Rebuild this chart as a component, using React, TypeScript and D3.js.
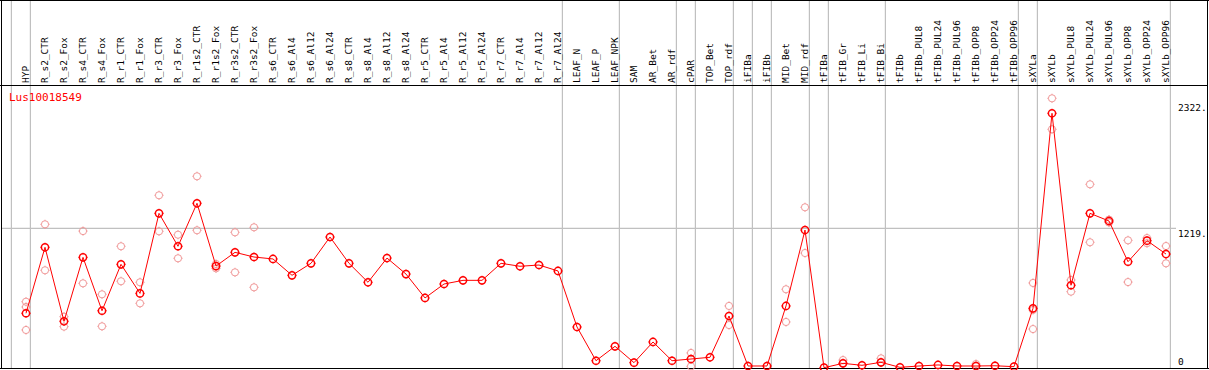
import React from "react";
import * as d3 from "d3";

const categories = [
  "HYP", "R_s2_CTR", "R_s2_Fox", "R_s4_CTR", "R_s4_Fox", "R_r1_CTR", "R_r1_Fox", "R_r3_CTR", "R_r3_Fox",
  "R_r1s2_CTR", "R_r1s2_Fox", "R_r3s2_CTR", "R_r3s2_Fox", "R_s6_CTR", "R_s6_Al4", "R_s6_Al12", "R_s6_Al24",
  "R_s8_CTR", "R_s8_Al4", "R_s8_Al12", "R_s8_Al24", "R_r5_CTR", "R_r5_Al4", "R_r5_Al12", "R_r5_Al24",
  "R_r7_CTR", "R_r7_Al4", "R_r7_Al12", "R_r7_Al24", "LEAF_N", "LEAF_P", "LEAF_NPK", "SAM", "AR_Bet", "AR_rdf",
  "cPAR", "TOP_Bet", "TOP_rdf", "iFIBa", "iFIBb", "MID_Bet", "MID_rdf", "tFIBa", "tFIB_Gr", "tFIB_Li", "tFIB_Bi",
  "tFIBb", "tFIBb_PUL8", "tFIBb_PUL24", "tFIBb_PUL96", "tFIBb_OPP8", "tFIBb_OPP24", "tFIBb_OPP96",
  "sXYLa", "sXYLb", "sXYLb_PUL8", "sXYLb_PUL24", "sXYLb_PUL96", "sXYLb_OPP8", "sXYLb_OPP24", "sXYLb_OPP96",
];

const meanValues = [
  476, 1053, 406, 965, 498, 904, 650, 1350, 1062, 1438, 889, 1009, 968, 951, 808, 913, 1143,
  913, 747, 959, 819, 610, 732, 764, 764, 913, 887, 898, 846, 356, 61, 187, 44, 225, 61,
  76, 91, 452, 15, 15, 540, 1204, 0, 38, 21, 47,
  3, 15, 24, 15, 15, 17, 9,
  519, 2225, 721, 1350, 1283, 927, 1111, 994,
];

// replicate values: [column index, value]
const replicateValues: [number, number][] = [
  [0, 577], [0, 531], [0, 330],
  [1, 1254], [1, 852],
  [2, 446], [2, 359],
  [3, 1195], [3, 738],
  [4, 642], [4, 362],
  [5, 1062], [5, 756],
  [6, 747], [6, 563],
  [7, 1508], [7, 1193],
  [8, 1163], [8, 957],
  [9, 1674], [9, 1202],
  [10, 869], [10, 907],
  [11, 1184], [11, 834],
  [12, 1228], [12, 703],
  [35, 129], [35, 12],
  [37, 540], [37, 373],
  [40, 686], [40, 400],
  [41, 1403], [41, 1003],
  [43, 67], [43, 40],
  [45, 82], [45, 45],
  [50, 32],
  [53, 741], [53, 338], [53, 505],
  [54, 2356], [54, 2085],
  [55, 767], [55, 665],
  [56, 1604], [56, 1097],
  [57, 1295], [57, 1270],
  [58, 1114], [58, 749],
  [59, 1134], [59, 1089],
  [60, 1064], [60, 913],
];

const groupStarts = [0, 1, 29, 32, 35, 36, 38, 39, 40, 42, 43, 46, 53, 54, 61];
const yTicks = [
  { value: 2322, label: "2322." },
  { value: 1219, label: "1219." },
  { value: 0, label: "0" },
];
const geneName = "Lus10018549";

const W = 1209;
const H = 370;
const mono = "'DejaVu Sans Mono', monospace";

function Marker({ cx, cy, color, sw }: { cx: number; cy: number; color: string; sw: number }) {
  const r = 3.6;
  const t = 1;
  return (
    <g stroke={color} strokeWidth={sw} fill="none">
      <circle cx={cx} cy={cy} r={r} />
      <line x1={cx} y1={cy - r - t} x2={cx} y2={cy - r} strokeWidth={1} />
      <line x1={cx} y1={cy + r} x2={cx} y2={cy + r + t} strokeWidth={1} />
      <line x1={cx - r - t} y1={cy} x2={cx - r} y2={cy} strokeWidth={1} />
      <line x1={cx + r} y1={cy} x2={cx + r + t} y2={cy} strokeWidth={1} />
    </g>
  );
}

export default function App() {
  const x = d3.scaleLinear().domain([0, categories.length - 1]).range([26, 1166]);
  const y = d3.scaleLinear().domain([0, 2322]).range([367.7, 102.2]);
  const line = d3
    .line<number>()
    .x((_, i) => x(i))
    .y((d) => y(d));

  return (
    <div style={{ position: "absolute", left: 0, top: 0 }}>
      <svg width={W} height={H} style={{ display: "block", background: "#fff" }}>
        <line x1={1} x2={1176} y1={y(1219)} y2={y(1219)} stroke="#c0c0c0" strokeWidth={1.2} />
        {groupStarts.map((g) => (
          <line key={g} x1={x(g) - 14.6} x2={x(g) - 14.6} y1={0} y2={368} stroke="#c0c0c0" strokeWidth={1.2} />
        ))}
        <line x1={0} x2={W} y1={0.5} y2={0.5} stroke="#000" />
        <line x1={0} x2={W - 2} y1={85.5} y2={85.5} stroke="#000" />
        <line x1={1.5} x2={1.5} y1={0} y2={369} stroke="#000" />
        <line x1={W - 1.5} x2={W - 1.5} y1={0} y2={369} stroke="#000" />
        <line x1={0} x2={W} y1={368.5} y2={368.5} stroke="#000" />
        {categories.map((c, i) => (
          <text
            key={c}
            transform={`translate(${x(i) + 3.4},83) rotate(-90)`}
            fontFamily={mono}
            fontSize={9.5}
            fill="#000"
          >
            {c}
          </text>
        ))}
        {yTicks.map((t) => (
          <text
            key={t.label}
            x={1178}
            y={Math.min(y(t.value) + 9, 365)}
            fontFamily={mono}
            fontSize={9.5}
            fill="#000"
          >
            {t.label}
          </text>
        ))}
        <text x={9} y={101} fontFamily={mono} fontSize={11} fill="#ff0000">
          {geneName}
        </text>
        {replicateValues.map(([i, v], k) => (
          <Marker key={k} cx={x(i)} cy={y(v)} color="#f09898" sw={1} />
        ))}
        <path d={line(meanValues) || ""} fill="none" stroke="#ff0000" strokeWidth={1} />
        {meanValues.map((v, i) => (
          <Marker key={i} cx={x(i)} cy={y(v)} color="#ff0000" sw={1.5} />
        ))}
      </svg>
    </div>
  );
}
